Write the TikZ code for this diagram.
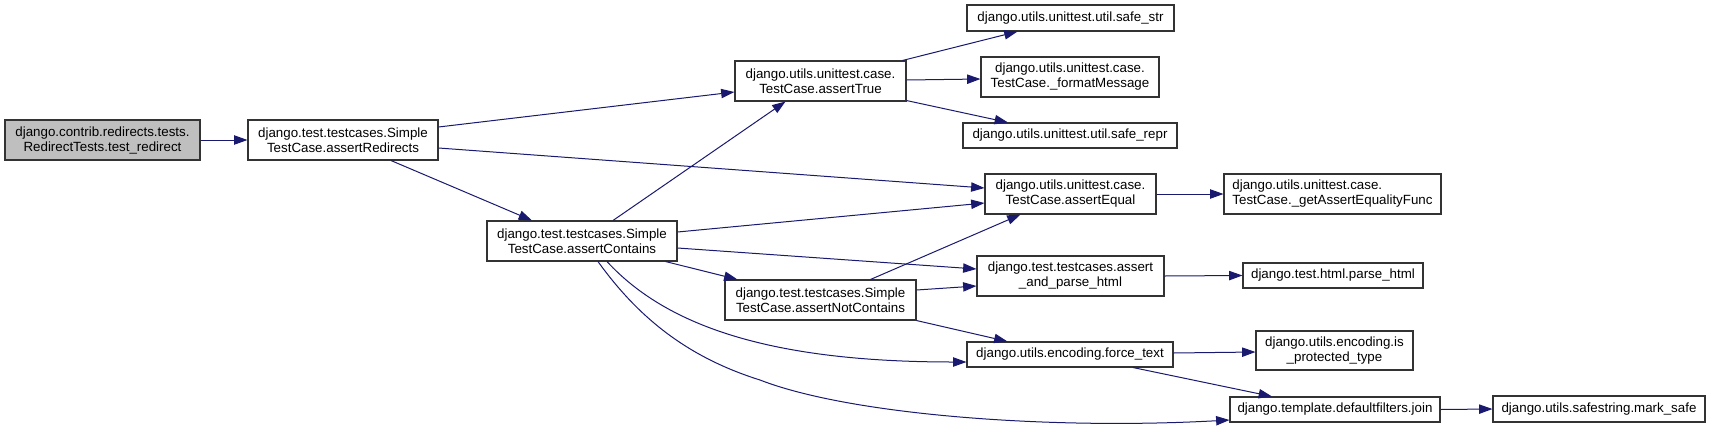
\documentclass[tikz,border=0pt]{standalone}
\usepackage{fontspec}
\setmainfont{Liberation Sans}
\usetikzlibrary{arrows.meta,calc}
\definecolor{edgeblue}{HTML}{191970}
\definecolor{nodegray}{HTML}{BFBFBF}
\definecolor{bordergray}{HTML}{333333}
\newcommand\bx[7][]{\node[box,#1,minimum width={(#4-#2)*0.75pt},minimum height={(#5-#3)*0.75pt}] (#6) at ({(#2+#4)/2},{(#3+#5)/2}) {#7};}
\begin{document}
\begin{tikzpicture}[x=0.75pt,y=-0.75pt,
  box/.style={draw=bordergray,line width=0.8pt,fill=white,rectangle,inner sep=0pt,align=center,
    font=\fontsize{10}{11.25}\selectfont},
  edge/.style={draw=edgeblue,line width=0.75pt,-{Triangle[length=10pt,width=7pt]}}]
\useasboundingbox (0,0) rectangle (1711,433);
% nodes
\bx[fill=nodegray]{5}{120}{200}{160}{A}{django.contrib.redirects.tests.\\RedirectTests.test\_redirect}
\bx{248}{120}{438}{160}{B}{django.test.testcases.Simple\\TestCase.assertRedirects}
\bx{735}{61}{906}{101}{C}{django.utils.unittest.case.\\TestCase.assertTrue}
\bx{487}{221}{677}{261}{D}{django.test.testcases.Simple\\TestCase.assertContains}
\bx{725}{280}{916}{320}{E}{django.test.testcases.Simple\\TestCase.assertNotContains}
\bx{967}{5}{1174}{31}{F}{django.utils.unittest.util.safe\_str}
\bx{981}{57}{1159}{97}{G}{django.utils.unittest.case.\\TestCase.\_formatMessage}
\bx{963}{123}{1177}{148}{H}{django.utils.unittest.util.safe\_repr}
\bx{985}{174}{1156}{214}{I}{django.utils.unittest.case.\\TestCase.assertEqual}
\bx[align=left]{1224}{174}{1441}{214}{J}{django.utils.unittest.case.\\TestCase.\_getAssertEqualityFunc}
\bx{977}{256}{1164}{296}{K}{django.test.testcases.assert\\\_and\_parse\_html}
\bx{1243}{263}{1423}{288}{L}{django.test.html.parse\_html}
\bx{967}{342}{1173}{367}{M}{django.utils.encoding.force\_text}
\bx{1256}{331}{1413}{370}{N}{django.utils.encoding.is\\\_protected\_type}
\bx{1230}{397}{1440}{422}{O}{django.template.defaultfilters.join}
\bx{1493}{396}{1705}{422}{P}{django.utils.safestring.mark\_safe}
% edges
\draw[edge] (A.east) -- (B.west);
\draw[edge] ($(B.east)+(0,-13)$) -- ($(C.west)+(0,11)$);
\draw[edge] ($(B.east)+(0,8)$) -- ($(I.west)+(0,-6)$);
\draw[edge] ($(B.south)+(48,0)$) -- ($(D.north)+(-50,0)$);
\draw[edge] ($(D.north)+(31,0)$) -- ($(C.south)+(-35,0)$);
\draw[edge] ($(D.east)+(0,-9)$) -- ($(I.west)+(0,9)$);
\draw[edge] ($(D.east)+(0,7)$) -- ($(K.west)+(0,-7)$);
\draw[edge] ($(D.south east)+(-12,0)$) -- ($(E.north west)+(13,0)$);
\draw[edge] ($(D.south)+(25,0)$) .. controls (670,330) and (780,362) .. ($(M.west)+(0,7.5)$);
\draw[edge] ($(D.south)+(16,0)$) .. controls (640,320) and (690,358) .. (760,380)
  .. controls (850,415) and (1050,430) .. ($(O.west)+(0,10.5)$);
\draw[edge] ($(E.north)+(50,0)$) -- ($(I.south)+(-50,0)$);
\draw[edge] ($(E.east)+(0,-10)$) -- ($(K.west)+(0,10)$);
\draw[edge] (E.south east) -- ($(M.north west)+(41,0)$);
\draw[edge] ($(C.north east)+(-4,0)$) -- ($(F.south)+(-53,0)$);
\draw[edge] ($(C.east)+(0,-1)$) -- ($(G.west)+(0,2)$);
\draw[edge] ($(C.south east)+(0,-1)$) -- ($(H.north)+(-62,0)$);
\draw[edge] (I.east) -- (J.west);
\draw[edge] (K.east) -- (L.west);
\draw[edge] ($(M.east)+(0,-1.5)$) -- ($(N.west)+(0,1.5)$);
\draw[edge] ($(M.south)+(63,0)$) -- ($(O.north)+(-63,0)$);
\draw[edge] (O.east) -- (P.west);
\end{tikzpicture}
\end{document}
